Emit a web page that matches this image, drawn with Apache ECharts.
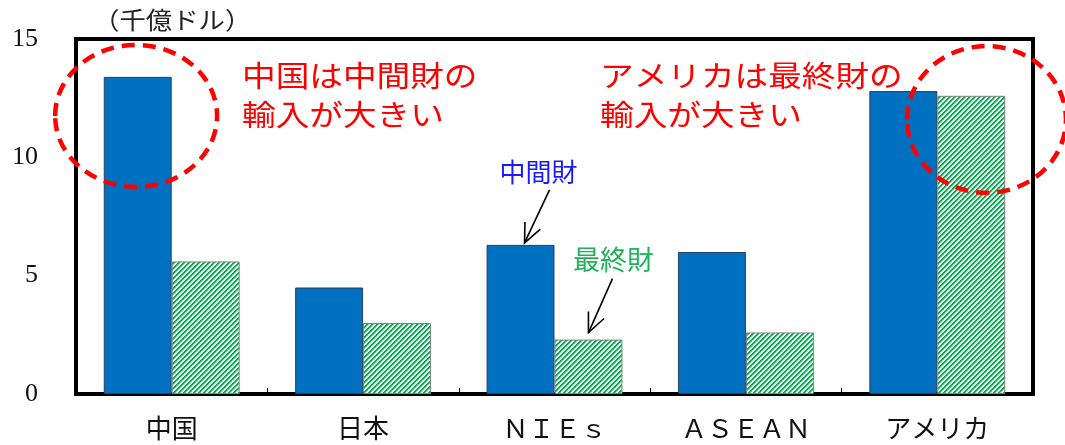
<!DOCTYPE html>
<html>
<head>
<meta charset="utf-8">
<script src="https://cdn.jsdelivr.net/npm/echarts@6/dist/echarts.min.js"></script>
<style>
  html, body { margin: 0; padding: 0; background: #fff; }
  #chart { width: 1065px; height: 445px; }
</style>
</head>
<body>
<div id="chart"></div>
<script>
// Imports by region (hundred-billion dollars): intermediate vs final goods
const categories = ['中国', '日本', 'ＮＩＥｓ', 'ＡＳＥＡＮ', 'アメリカ'];
const intermediateGoods = [13.4, 4.5, 6.3, 6.0, 12.8];
const finalGoods = [5.6, 3.0, 2.3, 2.6, 12.6];
const yMin = 0, yMax = 15, yStep = 5;
const unitLabel = '（千億ドル）';

const CJK = "'Noto Sans CJK JP', sans-serif";
const SERIF = "'Liberation Serif', 'Noto Sans CJK JP', serif";

// Diagonal green hatch used for the final-goods bars
function hatchPattern() {
  const n = 5;
  const c = document.createElement('canvas');
  c.width = n; c.height = n;
  const ctx = c.getContext('2d');
  const img = ctx.createImageData(n, n);
  for (let y = 0; y < n; y++) {
    for (let x = 0; x < n; x++) {
      const k = (x + y) % n;
      let rgb;
      if (k === 0 || k === 1) rgb = [0, 176, 80];
      else if (k === 2) rgb = [120, 215, 155];
      else rgb = [255, 255, 255];
      const i = (y * n + x) * 4;
      img.data[i] = rgb[0]; img.data[i + 1] = rgb[1]; img.data[i + 2] = rgb[2]; img.data[i + 3] = 255;
    }
  }
  ctx.putImageData(img, 0, 0);
  return c;
}

const chart = echarts.init(document.getElementById('chart'), null, { renderer: 'canvas' });

chart.setOption({
  animation: false,
  grid: {
    left: 76, right: 32, top: 39, bottom: 51,
    show: true, borderColor: '#000', borderWidth: 4, backgroundColor: 'transparent'
  },
  xAxis: {
    type: 'category',
    data: categories,
    axisLine: { show: false },
    axisTick: { show: true, inside: true, length: 6, lineStyle: { color: '#000', width: 1 } },
    axisLabel: { margin: 24, fontFamily: SERIF, fontSize: 26, color: '#111' },
    splitLine: { show: false }
  },
  yAxis: {
    type: 'value',
    min: yMin, max: yMax, interval: yStep,
    axisLine: { show: false },
    axisTick: { show: false },
    splitLine: { show: false },
    axisLabel: { margin: 38, fontFamily: SERIF, fontSize: 26, color: '#111' }
  },
  series: [
    {
      name: '中間財',
      type: 'bar',
      data: intermediateGoods,
      barGap: '0%',
      barCategoryGap: '29%',
      itemStyle: { color: '#0070c0', borderColor: '#2a3f5f', borderWidth: 1 }
    },
    {
      name: '最終財',
      type: 'bar',
      data: finalGoods,
      itemStyle: {
        color: { image: hatchPattern(), repeat: 'repeat' },
        borderColor: '#808080', borderWidth: 1
      }
    }
  ]
});

// Annotations anchored to the axes
const toPx = (idx, v) => chart.convertToPixel({ xAxisIndex: 0, yAxisIndex: 0 }, [idx, v]);
const band = toPx(1, 0)[0] - toPx(0, 0)[0];
const unitPx = toPx(0, 0)[1] - toPx(0, 1)[1];

function ellipseAt(idx, dxBands, vCenter, rxBands, ryUnits) {
  const c = toPx(idx, vCenter);
  return {
    type: 'ellipse',
    z: 100,
    shape: { cx: c[0] + dxBands * band, cy: c[1], rx: rxBands * band, ry: ryUnits * unitPx },
    style: { fill: 'none', stroke: '#ff0000', lineWidth: 4.5, lineDash: [13, 8] }
  };
}

function arrowTo(tip, from, color) {
  const ang = Math.atan2(tip[1] - from[1], tip[0] - from[0]);
  const len = 21, spread = 0.42;
  const a1 = [tip[0] - len * Math.cos(ang - spread), tip[1] - len * Math.sin(ang - spread)];
  const a2 = [tip[0] - len * Math.cos(ang + spread), tip[1] - len * Math.sin(ang + spread)];
  return [
    { type: 'line', z: 100, shape: { x1: from[0], y1: from[1], x2: tip[0], y2: tip[1] }, style: { stroke: color, lineWidth: 1.6 } },
    { type: 'polyline', z: 100, shape: { points: [a1, tip, a2] }, style: { stroke: color, lineWidth: 1.6, fill: null } }
  ];
}

const halfBar = band * (1 - 0.29) / 4;
const blueTop = toPx(2, intermediateGoods[2]);
const greenTop = toPx(2, finalGoods[2]);
const blueTip = [blueTop[0] - halfBar + 4, blueTop[1] - 2];
const greenTip = [greenTop[0] + halfBar, greenTop[1] - 7];

// Horizontally widened text block (scaled about its own left edge)
function wideText(x, yMid, text, color, size, lineH, sx) {
  return {
    type: 'text', z: 110, x: x, y: yMid, scaleX: sx, originX: 0, originY: 0,
    style: {
      text: text, fill: color, fontFamily: CJK, fontSize: size, lineHeight: lineH,
      textAlign: 'left', textVerticalAlign: 'middle'
    }
  };
}

chart.setOption({
  graphic: [
    wideText(93, 20, unitLabel, '#222', 24, 26, 1.1),
    ellipseAt(0, -0.186, 11.75, 0.423, 3.0),
    ellipseAt(4, 0.257, 11.6, 0.415, 3.1),
    wideText(242, 95, '中国は中間財の\n輸入が大きい', '#ff0000', 29, 39, 1.16),
    wideText(600, 95, 'アメリカは最終財の\n輸入が大きい', '#ff0000', 29, 39, 1.16),
    {
      type: 'text', z: 110, x: blueTip[0] + 14, y: blueTip[1] - 71,
      style: { text: '中間財', fill: '#1a1aff', fontFamily: CJK, fontSize: 26, textAlign: 'center', textVerticalAlign: 'middle' }
    },
    {
      type: 'text', z: 110, x: greenTip[0] + 25, y: greenTip[1] - 73,
      style: { text: '最終財', fill: '#1fb358', fontFamily: CJK, fontSize: 27, textAlign: 'center', textVerticalAlign: 'middle' }
    },
    ...arrowTo(blueTip, [blueTip[0] + 25, blueTip[1] - 53], '#000'),
    ...arrowTo(greenTip, [greenTip[0] + 24, greenTip[1] - 54], '#000')
  ]
});
</script>
</body>
</html>
